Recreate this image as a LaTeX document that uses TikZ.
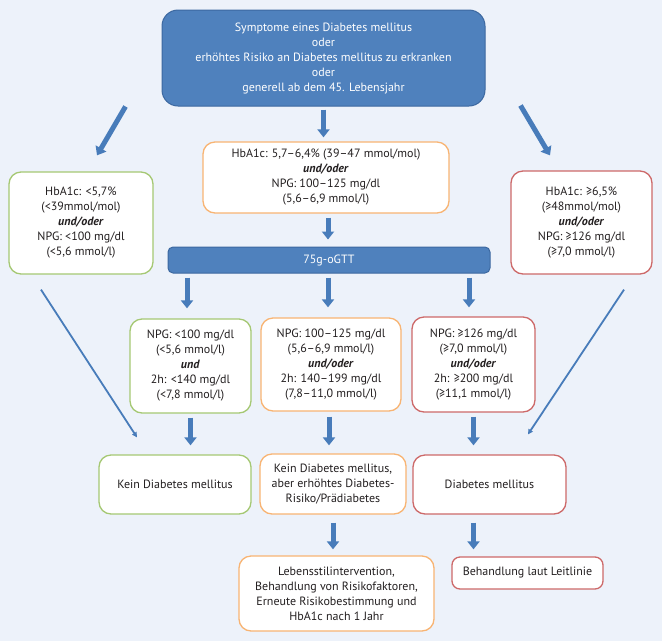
\documentclass[tikz,border=0pt]{standalone}
\usepackage{fontspec}
\setmainfont{PT Sans}
\usetikzlibrary{arrows.meta,calc}
\definecolor{bgcol}{RGB}{237,242,250}
\definecolor{bluefill}{RGB}{79,129,189}
\definecolor{blueline}{RGB}{60,104,160}
\definecolor{arrowcol}{RGB}{72,124,186}
\definecolor{greencol}{RGB}{165,200,115}
\definecolor{orangecol}{RGB}{248,180,115}
\definecolor{redcol}{RGB}{205,105,105}
\definecolor{txtcol}{RGB}{35,31,32}
\begin{document}
\begin{tikzpicture}[x=1pt,y=-1pt,
  every node/.style={font=\fontsize{12}{15}\selectfont, align=center, inner sep=0pt},
  bluebox/.style={fill=bluefill, draw=blueline, line width=1pt, text=white, rounded corners=16pt},
  whitebox/.style={fill=white, line width=1.3pt, text=txtcol, rounded corners=12pt},
  gbox/.style={whitebox, draw=greencol},
  obox/.style={whitebox, draw=orangecol},
  rbox/.style={whitebox, draw=redcol},
  blockarrow/.style={draw=arrowcol, line width=5pt, -{Triangle[width=12pt,length=8pt]}},
  thinarrow/.style={draw=arrowcol, line width=1.8pt, -{Triangle[width=5pt,length=5pt]}}
]
\useasboundingbox (0,0) rectangle (662,641);
\fill[bgcol] (0,0) rectangle (662,641);

\node[bluebox, minimum width=323pt, minimum height=96pt] (top) at (323.5,58)
  {Symptome eines Diabetes mellitus\\oder\\erhöhtes Risiko an Diabetes mellitus zu erkranken\\oder\\generell ab dem 45. Lebensjahr};

\node[obox, minimum width=246pt, minimum height=71pt] (mid1) at (326,177.5)
  {HbA1c: 5,7–6,4\% (39–47 mmol/mol)\\\textbf{\textit{und/oder}}\\NPG: 100–125 mg/dl\\(5,6–6,9 mmol/l)};

\node[gbox, minimum width=144pt, minimum height=102pt] (left1) at (81,223)
  {HbA1c: <5,7\%\\(<39mmol/mol)\\\textbf{\textit{und/oder}}\\NPG: <100 mg/dl\\(<5,6 mmol/l)};

\node[rbox, minimum width=141pt, minimum height=103pt] (right1) at (581.5,222.5)
  {HbA1c: ≥6,5\%\\(≥48mmol/mol)\\\textbf{\textit{und/oder}}\\NPG: ≥126 mg/dl\\(≥7,0 mmol/l)};

\node[bluebox, rounded corners=5pt, minimum width=322pt, minimum height=26pt] (ogtt) at (329,260) {75g-oGTT};

\node[gbox, minimum width=121pt, minimum height=94pt] (g2) at (190.5,366)
  {NPG: <100 mg/dl\\(<5,6 mmol/l)\\\textbf{\textit{und}}\\2h: <140 mg/dl\\(<7,8 mmol/l)};
\node[obox, minimum width=140pt, minimum height=93pt] (o2) at (331,364.5)
  {NPG: 100–125 mg/dl\\(5,6–6,9 mmol/l)\\\textbf{\textit{und/oder}}\\2h: 140–199 mg/dl\\(7,8–11,0 mmol/l)};
\node[rbox, minimum width=123pt, minimum height=95pt] (r2) at (473.5,364.5)
  {NPG: ≥126 mg/dl\\(≥7,0 mmol/l)\\\textbf{\textit{und/oder}}\\2h: ≥200 mg/dl\\(≥11,1 mmol/l)};

\node[gbox, minimum width=152pt, minimum height=59pt] (g3) at (175,484.5) {Kein Diabetes mellitus};
\node[obox, minimum width=146pt, minimum height=60pt] (o3) at (333,484)
  {Kein Diabetes mellitus,\\aber erhöhtes Diabetes-\\Risiko/Prädiabetes};
\node[rbox, minimum width=153pt, minimum height=59pt] (r3) at (489.5,484.5) {Diabetes mellitus};

\node[obox, minimum width=195pt, minimum height=75pt] (o4) at (336.5,593.5)
  {Lebensstilintervention,\\Behandlung von Risikofaktoren,\\Erneute Risikobestimmung und\\HbA1c nach 1 Jahr};
\node[rbox, rounded corners=8pt, minimum width=151pt, minimum height=32pt] (r4) at (527.5,573) {Behandlung laut Leitlinie};

% block arrows
\draw[blockarrow, shorten <=3pt, shorten >=4pt] (top.south) -- (top.south |- mid1.north);
\draw[blockarrow] ([xshift=-36pt]top.south west) -- ([xshift=16pt,yshift=16pt]left1.north);
\draw[blockarrow] ([xshift=35pt,yshift=1pt]top.south east) -- ([xshift=-31.5pt,yshift=15pt]right1.north);
\draw[blockarrow, shorten <=4pt, shorten >=7pt] ([xshift=2pt]mid1.south) -- ([xshift=2pt]mid1.south |- ogtt.north);

\draw[blockarrow, shorten <=4pt, shorten >=10pt] ([xshift=-3.5pt]g2.north |- ogtt.south) -- ([xshift=-3.5pt]g2.north);
\draw[blockarrow, shorten <=4pt, shorten >=10pt] ([xshift=-3pt]o2.north |- ogtt.south) -- ([xshift=-3pt]o2.north);
\draw[blockarrow, shorten <=4pt, shorten >=9pt] ([xshift=-4.5pt]r2.north |- ogtt.south) -- ([xshift=-4.5pt]r2.north);

\draw[blockarrow, shorten <=4pt, shorten >=9pt] (g2.south) -- (g2.south |- g3.north);
\draw[blockarrow, shorten <=5pt, shorten >=8pt] ([xshift=-2pt]o2.south) -- ([xshift=-2pt]o2.south |- o3.north);
\draw[blockarrow, shorten <=4pt, shorten >=9pt] (r2.south) -- (r2.south |- r3.north);

\draw[blockarrow, shorten <=8pt, shorten >=6pt] (o3.south) -- (o3.south |- o4.north);
\draw[blockarrow, shorten <=8pt, shorten >=7pt] (r2.south |- r3.south) -- (r2.south |- r4.north);

% thin long arrows
\draw[thinarrow] ([xshift=-40pt,yshift=-15pt]left1.south) -- ([xshift=-38pt,yshift=17pt]g3.north);
\draw[thinarrow] ([xshift=42.5pt,yshift=-15pt]right1.south) -- ([xshift=38.5pt,yshift=20pt]r3.north);
\end{tikzpicture}
\end{document}
